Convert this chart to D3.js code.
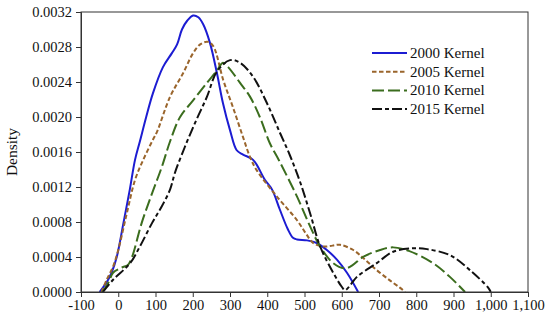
<!DOCTYPE html>
<html>
<head>
<meta charset="utf-8">
<script src="https://cdn.jsdelivr.net/npm/d3@7"></script>
<style>
  html,body{margin:0;padding:0;background:#fff;}
  text{font-family:"Liberation Serif","DejaVu Serif",serif;fill:#111;}
</style>
</head>
<body>
<div id="chart"></div>
<script>
// density estimates: [income, density]
const k2000 = [[-50,0],[-30,0.00012],[-18,0.00022],[-4,0.0004],[14,0.00079],[31,0.00117],[45,0.00151],[58,0.00172],[75,0.002],[93,0.00227],[120,0.00257],[144,0.00273],[158,0.00283],[171,0.003],[185,0.0031],[201,0.00316],[215,0.00314],[228,0.00306],[246,0.00285],[265,0.0025],[281,0.00216],[300,0.00185],[318,0.00162],[335,0.00157],[362,0.00151],[394,0.00128],[413,0.00117],[434,0.00094],[455,0.00072],[469,0.00062],[480,0.0006],[507,0.00059],[533,0.00056],[560,0.00048],[587,0.00037],[614,0.00022],[644,0]];
const k2005 = [[-45,0],[-31,0.00014],[-14,0.00029],[0,0.00048],[23,0.0009],[45,0.00128],[67,0.00151],[93,0.00174],[104,0.00183],[139,0.00223],[174,0.0025],[201,0.00273],[220,0.00283],[240,0.00286],[255,0.00281],[282,0.00242],[308,0.00211],[335,0.00177],[354,0.00154],[372,0.00139],[426,0.00109],[480,0.00082],[505,0.00066],[523,0.00056],[550,0.00052],[575,0.00053],[595,0.00054],[631,0.00048],[660,0.00038],[694,0.00025],[730,0.00013],[756,0.00005],[770,0]];
const k2010 = [[-42,0],[-25,0.00012],[-14,0.00022],[10,0.00028],[26,0.00031],[37,0.0004],[63,0.00079],[91,0.00113],[117,0.00143],[139,0.00172],[166,0.002],[201,0.00219],[238,0.00239],[265,0.00253],[281,0.00262],[295,0.00257],[327,0.00239],[354,0.00223],[380,0.002],[407,0.0017],[432,0.0015],[480,0.00109],[515,0.00075],[542,0.00052],[577,0.00033],[609,0.00027],[630,0.00031],[657,0.0004],[703,0.00048],[738,0.00051],[780,0.00047],[845,0.00033],[891,0.00017],[931,0]];
const k2015 = [[-41,0],[-14,0.00014],[32,0.00033],[58,0.00052],[91,0.00079],[117,0.00098],[139,0.00117],[152,0.00136],[179,0.00166],[210,0.00197],[238,0.00223],[265,0.00252],[300,0.00265],[327,0.00262],[362,0.00246],[399,0.00216],[434,0.00182],[461,0.00156],[488,0.00126],[515,0.0009],[542,0.00052],[577,0.00022],[600,0.00006],[609,0.00002],[625,0.00009],[640,0.00017],[694,0.00033],[738,0.00046],[791,0.0005],[829,0.00049],[891,0.00042],[944,0.00025],[993,0.00005],[1000,0]];

const seriesNames = ['2000 Kernel','2005 Kernel','2010 Kernel','2015 Kernel'];
const xTicks = d3.range(-100, 1101, 100);
const yTicks = d3.range(0, 0.00321, 0.0004);

const W=550, H=321;
const m={l:81,r:22,t:12,b:29};

const svg=d3.select('#chart').append('svg').attr('width',W).attr('height',H);

const x=d3.scaleLinear().domain([-100,1100]).range([m.l,W-m.r]);
const y=d3.scaleLinear().domain([0,0.0032]).range([H-m.b,m.t]);

const styles=[
  {color:'#1c1cd2', dash:null},
  {color:'#9a652c', dash:'4.5,2.5'},
  {color:'#3b6d1e', dash:'12,4'},
  {color:'#111111', dash:'10,3,4,3'}
];
const data=[k2000,k2005,k2010,k2015];

const line=d3.line().x(d=>x(d[0])).y(d=>y(d[1])).curve(d3.curveCatmullRom.alpha(0.5));

svg.append('g').selectAll('path').data(data).join('path')
  .attr('d',line)
  .attr('fill','none')
  .attr('stroke',(d,i)=>styles[i].color)
  .attr('stroke-width',2)
  .attr('stroke-dasharray',(d,i)=>styles[i].dash);

// frame
svg.append('rect')
  .attr('x',m.l).attr('y',m.t)
  .attr('width',W-m.r-m.l).attr('height',H-m.b-m.t)
  .attr('fill','none').attr('stroke','#333').attr('stroke-width',1);

const fmtX=d=>d3.format(',')(d).replace('\u2212','-');

const gx=svg.append('g').attr('transform',`translate(0,${H-m.b})`)
  .call(d3.axisBottom(x).tickValues(xTicks).tickFormat(fmtX).tickSize(5).tickPadding(3));
const gy=svg.append('g').attr('transform',`translate(${m.l},0)`)
  .call(d3.axisLeft(y).tickValues(yTicks).tickFormat(d3.format('.4f')).tickSize(5).tickPadding(4));
[gx,gy].forEach(g=>{
  g.selectAll('text').style('font-size','14.5px').attr('fill','#111');
  g.selectAll('line,path').attr('stroke','#333');
});

svg.append('text')
  .attr('transform',`translate(17,${(m.t+H-m.b)/2}) rotate(-90)`)
  .attr('text-anchor','middle')
  .style('font-size','15.5px')
  .text('Density');

// legend
const lg=svg.append('g').attr('transform','translate(372,53)');
const row=lg.selectAll('g').data(seriesNames).join('g')
  .attr('transform',(d,i)=>`translate(0,${i*18.7})`);
row.append('line')
  .attr('x1',0).attr('x2',35).attr('y1',0).attr('y2',0)
  .attr('stroke',(d,i)=>styles[i].color)
  .attr('stroke-width',2)
  .attr('stroke-dasharray',(d,i)=>styles[i].dash);
row.append('text')
  .attr('x',38).attr('y',5)
  .style('font-size','15px')
  .text(d=>d);
</script>
</body>
</html>
